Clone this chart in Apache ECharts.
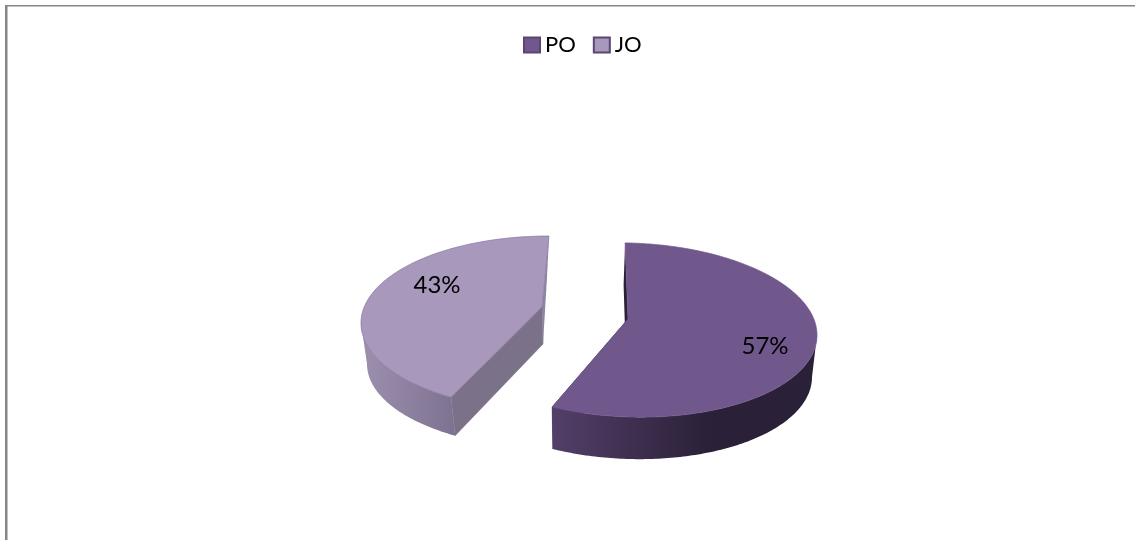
<!DOCTYPE html>
<html>
<head>
<meta charset="utf-8">
<style>
html, body { margin: 0; padding: 0; background: #fff; }
#main { width: 1135px; height: 540px; }
</style>
<script src="https://cdn.jsdelivr.net/npm/echarts@6/dist/echarts.min.js"></script>
</head>
<body>
<div id="main"></div>
<script>
//chart data
var categories = ['PO', 'JO'];
var shares = [57, 43];

//look of each slice: the tilted disc is an ellipse, the lower rim a slightly smaller one
var sliceLooks = [{
	cx: 630, cy: 330, rx: 187, ry: 87, skew: 0.027,
	bottomDx: -1, bottomRx: 183, bottomDy: 42, bottomRy: 87,
	apexX: 628, apexY: 319, apexDx: -2, apexDepth: 42,
	backDx: -1.5, startAdj: -1.5, endAdj: -0.6,
	top: '#70588c', stroke: '#70588c',
	wallFrom: '#533f69', wallTo: '#2a2037', wallStop: 0.6, cutFace: '#2a2037', backFace: '#2a2037',
	labelX: 765, labelY: 346
}, {
	cx: 549, cy: 323, rx: 188, ry: 87, skew: 0,
	bottomDx: 2, bottomRx: 184, bottomDy: 41, bottomRy: 84,
	apexX: 542, apexY: 307, apexDx: 1, apexDepth: 37,
	backDx: -2, startAdj: 6.2, endAdj: 0,
	top: '#a898bc', stroke: '#8676a0',
	wallFrom: '#9d90ae', wallTo: '#7d7290', wallStop: 1, cutFace: '#7b7189', backFace: '#8f84a2',
	labelX: 437, labelY: 285
}];

var rad = function(deg) {
	return deg * Math.PI / 180;
};

//point on an ellipse, angle clockwise from the top
var rimPoint = function(cx, cy, rx, ry, skew, deg) {
	var dx = rx * Math.sin(rad(deg));
	return [cx + dx, cy - ry * Math.cos(rad(deg)) + skew * dx];
};

var arcPoints = function(cx, cy, rx, ry, skew, from, to) {
	var pts = [];
	var steps = Math.max(2, Math.ceil(Math.abs(to - from)));
	for(var i = 0; i <= steps; i++) {
		pts.push(rimPoint(cx, cy, rx, ry, skew, from + (to - from) * i / steps));
	}
	return pts;
};

var renderSlice = function(params, api) {
	var look = sliceLooks[params.seriesIndex];
	var total = 0;
	var before = 0;
	for(var i = 0; i < shares.length; i++) {
		total += shares[i];
		if(i < params.seriesIndex) before += shares[i];
	}
	var start = before / total * 360 + look.startAdj;
	var end = (before + api.value(0)) / total * 360 + look.endAdj;

	var bx = look.cx + look.bottomDx;
	var by = look.cy + look.bottomDy;
	var apex = [look.apexX, look.apexY];
	var apexLow = [look.apexX + look.apexDx, look.apexY + look.apexDepth];

	//outer wall, only the part facing the viewer
	var wallStart = Math.max(start, 90);
	var wallEnd = Math.min(end, 270);
	var wall = arcPoints(look.cx, look.cy, look.rx, look.ry, look.skew, wallStart, wallEnd)
		.concat(arcPoints(bx, by, look.bottomRx, look.bottomRy, look.skew, wallEnd, wallStart));

	//face along the slice edge that looks to the front
	var frontAngle = end <= 270 ? end : start;
	var frontTop = rimPoint(look.cx, look.cy, look.rx, look.ry, look.skew, frontAngle);
	var frontLow = rimPoint(bx, by, look.bottomRx, look.bottomRy, look.skew, frontAngle);

	//thin face along the edge pointing backwards
	var backAngle = end <= 270 ? start : end;
	var backTop = rimPoint(look.cx, look.cy, look.rx, look.ry, look.skew, backAngle);
	var backLow = [backTop[0] + look.backDx, backTop[1] + look.bottomDy];

	var topFace = [apex].concat(arcPoints(look.cx, look.cy, look.rx, look.ry, look.skew, start, end));

	return {
		type: 'group',
		children: [{
			type: 'polygon',
			shape: { points: [backTop, backLow, apexLow, apex] },
			style: { fill: look.backFace }
		}, {
			type: 'polygon',
			shape: { points: [frontTop, frontLow, apexLow, apex] },
			style: { fill: look.cutFace, stroke: look.cutFace, lineWidth: 0.5 }
		}, {
			type: 'polygon',
			shape: { points: wall },
			style: {
				fill: new echarts.graphic.LinearGradient(0, 0, 1, 0, [
					{ offset: 0, color: look.wallFrom },
					{ offset: look.wallStop, color: look.wallTo },
					{ offset: 1, color: look.wallTo }
				])
			}
		}, {
			type: 'polygon',
			shape: { points: topFace },
			style: { fill: look.top, stroke: look.stroke, lineWidth: 0.7 }
		}, {
			type: 'text',
			style: {
				text: api.value(0) + '%',
				x: look.labelX,
				y: look.labelY,
				fill: '#000',
				font: '24px Lato',
				align: 'center',
				verticalAlign: 'middle'
			}
		}]
	};
};

var series = [];
for(var s = 0; s < categories.length; s++) {
	series.push({
		name: categories[s],
		type: 'custom',
		coordinateSystem: 'none',
		silent: true,
		itemStyle: {
			color: sliceLooks[s].top,
			borderColor: '#5b4672',
			borderWidth: 1
		},
		renderItem: renderSlice,
		data: [[shares[s]]]
	});
}

var option = {
	animation: false,
	backgroundColor: '#fff',
	legend: {
		data: categories,
		left: 518,
		top: 29,
		icon: 'rect',
		itemWidth: 16,
		itemHeight: 15,
		itemGap: 17,
		textStyle: { color: '#000', fontSize: 22, fontFamily: 'Lato' }
	},
	graphic: [{
		type: 'rect',
		shape: { x: 5, y: 5, width: 1130, height: 1.5 },
		style: { fill: '#868686' }
	}, {
		type: 'rect',
		shape: { x: 5, y: 5, width: 2.5, height: 535 },
		style: { fill: '#868686' }
	}],
	series: series
};

var chart = echarts.init(document.getElementById('main'));
chart.setOption(option);
</script>
</body>
</html>
